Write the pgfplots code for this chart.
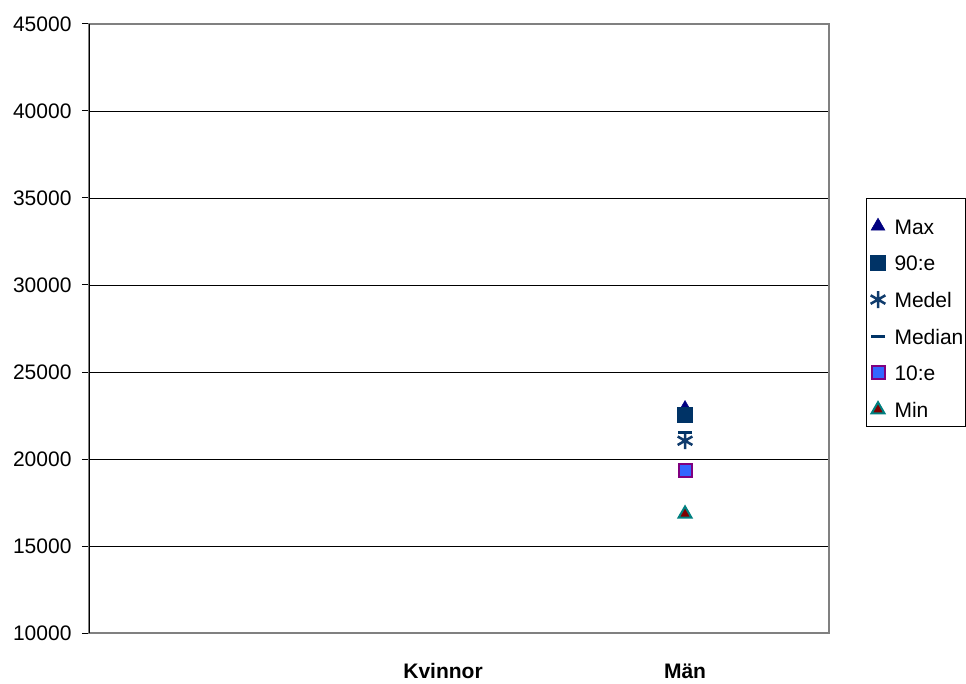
\documentclass[border=0pt]{standalone}
\usepackage{pgfplots}
\pgfplotsset{compat=1.18}
\usepackage{fontspec}
\setmainfont{Liberation Sans}

\definecolor{maxblue}{HTML}{000080}
\definecolor{navy90}{HTML}{003366}
\definecolor{medelblue}{HTML}{0F3B6C}
\definecolor{tenfill}{HTML}{3366FF}
\definecolor{tenedge}{HTML}{800080}
\definecolor{minfill}{HTML}{800000}
\definecolor{minedge}{HTML}{008080}
\definecolor{frame}{HTML}{808080}

\begin{document}
\begin{tikzpicture}
\useasboundingbox (0,0) rectangle (966pt,683pt);
\begin{axis}[
  at={(89pt,50pt)}, anchor=south west,
  scale only axis,
  width=740pt, height=609pt,
  xmin=-0.463, xmax=2.595,
  ymin=10000, ymax=45000,
  ytick={10000,15000,...,45000},
  scaled y ticks=false,
  xtick={1,2},
  xticklabels={Kvinnor,Män},
  /pgf/number format/assume math mode=true,
  /pgf/number format/1000 sep={},
  ymajorgrids,
  grid style={black, line width=0.9pt},
  axis line style={frame, line width=2pt},
  ytick pos=left,
  tick align=outside,
  major tick length=7pt,
  ytick style={black, line width=1pt},
  xtick style={draw=none},
  yticklabel style={font=\fontsize{21}{25}\selectfont, xshift=-7pt},
  xticklabel style={font=\fontsize{21}{25}\selectfont\bfseries, yshift=-20pt},
  legend style={
    at={(1.05,0.714)}, anchor=north west,
    draw=black, line width=1pt,
    font=\fontsize{21}{25}\selectfont,
    inner xsep=1pt, inner ysep=7.5pt,
    row sep=7.7pt,
    nodes={inner sep=1pt, text height=27pt, text depth=0pt},
  },
  legend cell align=left,
  legend image code/.code={%
    \path (0pt,0pt) (25pt,0pt);
    \draw[yshift=-5.5pt,mark repeat=2,mark phase=2,#1]
      plot coordinates {(0pt,0pt)(10pt,0pt)(20pt,0pt)};},
]
% Max
\addplot[only marks, mark=triangle*, mark size=8pt,
  mark options={fill=maxblue, draw=maxblue, line width=0.5pt}]
  coordinates {(2,22900)};
\addlegendentry{Max}
% 90:e
\addplot[only marks, mark=square*, mark size=7.5pt,
  mark options={fill=navy90, draw=navy90, line width=0.5pt}]
  coordinates {(2,22530)};
\addlegendentry{90:e}
% Medel
\addplot[only marks, mark=asterisk, mark size=8.5pt,
  mark options={draw=medelblue, line width=2.5pt}]
  coordinates {(2,21050)};
\addlegendentry{Medel}
% Median
\addplot[only marks, mark=-, mark size=7pt,
  mark options={draw=navy90, line width=3pt}]
  coordinates {(2,21550)};
\addlegendentry{Median}
% 10:e
\addplot[only marks, mark=square*, mark size=6.5pt,
  mark options={fill=tenfill, draw=tenedge, line width=2pt}]
  coordinates {(2,19330)};
\addlegendentry{10:e}
% Min
\addplot[only marks, mark=triangle*, mark size=7.5pt,
  mark options={fill=minfill, draw=minedge, line width=2pt}]
  coordinates {(2,16840)};
\addlegendentry{Min}
% black value axis on the left
\draw[black, line width=1pt] (rel axis cs:0,0) -- (rel axis cs:0,1);
\end{axis}
\end{tikzpicture}
\end{document}
